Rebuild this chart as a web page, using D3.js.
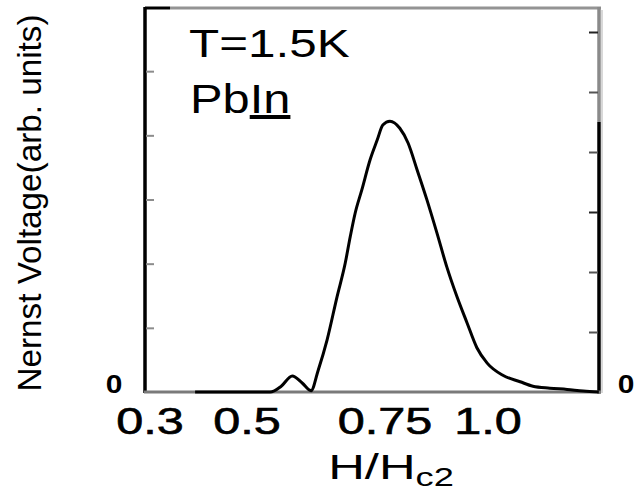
<!DOCTYPE html>
<html>
<head>
<meta charset="utf-8">
<script src="https://cdn.jsdelivr.net/npm/d3@7"></script>
<style>
  body { margin: 0; background: #fff; }
  svg text { font-family: "Liberation Sans", Arial, sans-serif; fill: #000; }
</style>
</head>
<body>
<div id="chart"></div>
<script>
// sweep in H/Hc2 and the Nernst signal (arb. units)
const hField = [0.393, 0.542, 0.562, 0.582, 0.600, 0.616, 0.629, 0.645, 0.663, 0.678, 0.687, 0.696,
                0.708, 0.723, 0.736, 0.746, 0.762, 0.786, 0.806, 0.828, 0.852, 0.876, 0.900, 0.925,
                0.949, 0.973, 0.998, 1.036, 1.078, 1.109, 1.150, 1.192, 1.231, 1.269];
const nernst = [0, 0, 0.09, 0.25, 0.14, 0.02, 0.34, 0.81, 1.48, 2.01, 2.42, 2.79,
                3.15, 3.62, 3.93, 4.16, 4.22, 4.11, 3.88, 3.46, 2.99, 2.48, 1.95, 1.48,
                1.08, 0.69, 0.45, 0.26, 0.16, 0.09, 0.06, 0.04, 0.015, 0];

const xTicks = [0.3, 0.5, 0.75, 1.0];
const xTickLabels = ["0.3", "0.5", "0.75", "1.0"];
const leftTicks = [1, 2, 3, 4, 5];
const rightTicks = [1, 2, 3, 4, 5, 6];

const W = 635, H = 494;
const frame = { left: 145, right: 599, top: 7, bottom: 392 };

// the printed tick labels are not evenly spaced, so the x scale is piecewise
const x = d3.scaleLinear()
    .domain(xTicks)
    .range([150, 247, 385, 488]);

const y = d3.scaleLinear().domain([0, 6]).range([frame.bottom, frame.top]);
const yRight = d3.scaleLinear().domain([0, (frame.bottom - frame.top) / 60]).range([frame.bottom, frame.top]);

const svg = d3.select("#chart").append("svg")
    .attr("width", W)
    .attr("height", H);

// stretch text horizontally like the scanned original
function widen(sel, k) {
    sel.each(function() {
        const w = this.getComputedTextLength();
        d3.select(this).attr("textLength", w * k).attr("lengthAdjust", "spacingAndGlyphs");
    });
}

// frame, drawn in pieces since the scan is partly grey
const seg = [
    [frame.left, frame.top + 1, 170, frame.top + 1, "#000", 3],
    [170, frame.top + 1, frame.right + 2, frame.top + 1, "#949494", 3],
    [frame.left, frame.top, frame.left, frame.bottom + 1, "#000", 3.5],
    [frame.right, frame.top, frame.right, 122, "#8a8a8a", 3.5],
    [frame.right, 122, frame.right, frame.bottom + 1.5, "#000", 3.5],
    [frame.right + 3, frame.top + 3, frame.right + 3, frame.bottom + 1, "#d8d8d8", 2],
    [frame.left - 1, frame.bottom, frame.right + 2, frame.bottom, "#7a7a7a", 3]
];
svg.append("g").selectAll("line")
    .data(seg)
    .enter().append("line")
    .attr("x1", d => d[0]).attr("y1", d => d[1])
    .attr("x2", d => d[2]).attr("y2", d => d[3])
    .attr("stroke", d => d[4])
    .attr("stroke-width", d => d[5]);

// inward ticks, left and right
svg.append("g")
    .attr("transform", `translate(${frame.left + 1},0)`)
    .call(d3.axisRight(y).tickValues(leftTicks).tickSize(8).tickFormat(""))
    .call(g => g.select(".domain").remove())
    .call(g => g.selectAll(".tick line").attr("stroke", "#8c8c8c").attr("stroke-width", 2));

svg.append("g")
    .attr("transform", `translate(${frame.right - 1},0)`)
    .call(d3.axisLeft(yRight).tickValues(rightTicks).tickSize(9).tickFormat(""))
    .call(g => g.select(".domain").remove())
    .call(g => g.selectAll(".tick line").attr("stroke", (d, i) => i % 3 === 2 ? "#222" : "#555").attr("stroke-width", 2));

// x tick labels
svg.append("g").selectAll("text")
    .data(xTicks)
    .enter().append("text")
    .attr("x", d => x(d))
    .attr("y", 434)
    .attr("text-anchor", "middle")
    .style("font-size", "36px")
    .style("stroke", "#000")
    .style("stroke-width", 0.6)
    .text((d, i) => xTickLabels[i])
    .call(widen, 1.35);

// zero marks on both sides
svg.append("g").selectAll("text")
    .data([frame.left - 31, frame.right + 27])
    .enter().append("text")
    .attr("x", d => d)
    .attr("y", y(0) + 1)
    .attr("text-anchor", "middle")
    .style("font-size", "26px")
    .style("font-weight", "bold")
    .text("0")
    .call(widen, 1.15);

// curve
const line = d3.line()
    .x(d => x(d[0]))
    .y(d => y(d[1]))
    .curve(d3.curveMonotoneX);

svg.append("path")
    .datum(hField.map((h, i) => [h, nernst[i]]))
    .attr("fill", "none")
    .attr("stroke", "#000")
    .attr("stroke-width", 3)
    .attr("stroke-linejoin", "round")
    .attr("d", line);

// annotations
svg.append("text")
    .attr("x", 189)
    .attr("y", 57)
    .style("font-size", "38px")
    .text("T=1.5K")
    .call(widen, 1.3);

const sample = svg.append("text")
    .attr("x", 190)
    .attr("y", 113)
    .style("font-size", "40px");
sample.append("tspan").text("Pb");
sample.append("tspan").text("In").style("text-decoration", "underline");
widen(sample, 1.22);

// axis titles
const xl = svg.append("text")
    .attr("x", 391)
    .attr("y", 479)
    .attr("text-anchor", "middle")
    .style("font-size", "35px");
xl.append("tspan").text("H/H");
xl.append("tspan").text("c2").attr("dy", 7).style("font-size", "25px");
widen(xl, 1.45);

svg.append("text")
    .attr("transform", "translate(41,203) rotate(-90)")
    .attr("text-anchor", "middle")
    .style("font-size", "33px")
    .text("Nernst Voltage(arb. units)")
    .attr("textLength", 377)
    .attr("lengthAdjust", "spacingAndGlyphs");
</script>
</body>
</html>
